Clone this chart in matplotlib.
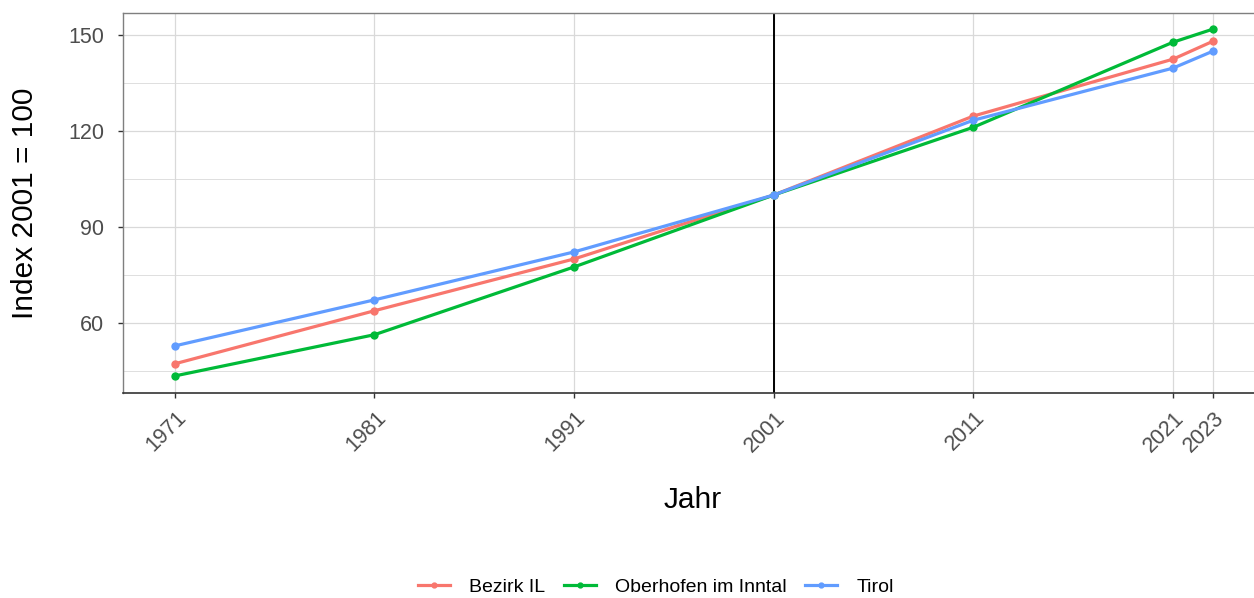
import numpy as np
import matplotlib.pyplot as plt
from matplotlib.ticker import MultipleLocator
from matplotlib.transforms import ScaledTranslation

plt.rcParams['font.family'] = ['Liberation Sans', 'DejaVu Sans']

# Daten (Index 2001 = 100)
jahre = [1971, 1981, 1991, 2001, 2011, 2021, 2023]
bezirk_il = [47.2, 63.8, 80.0, 100, 124.7, 142.5, 148.1]
oberhofen = [43.4, 56.3, 77.5, 100, 121.2, 147.8, 151.9]
tirol = [52.8, 67.2, 82.2, 100, 123.4, 139.7, 145.0]

namen = ['Bezirk IL', 'Oberhofen im Inntal', 'Tirol']
farben = ['#F8766D', '#00BA38', '#619CFF']

fig = plt.figure(figsize=(12.54, 5.98), dpi=100)
ax = fig.add_axes([0.098, 0.343, 0.909, 0.635])

ax.axvline(2001, color='black', lw=1.4, zorder=2)
for werte, name, farbe in zip([bezirk_il, oberhofen, tirol], namen, farben):
    ax.plot(jahre, werte, color=farbe, lw=2.3, marker='o', ms=5, label=name, zorder=3)

ax.set_xlim(1968.4, 2025.5)
ax.set_ylim(38.1, 156.9)
ax.set_xticks(jahre)
ax.set_xticklabels([str(j) for j in jahre], rotation=45, ha='right', va='top',
                   rotation_mode='anchor')
ax.yaxis.set_major_locator(MultipleLocator(30))
ax.yaxis.set_minor_locator(MultipleLocator(15))
ax.xaxis.set_minor_locator(plt.NullLocator())

ax.grid(True, which='major', color='#D9D9D9', lw=0.9)
ax.grid(True, which='minor', axis='y', color='#D9D9D9', lw=0.6)
ax.set_axisbelow(True)

for side in ['top', 'right', 'left']:
    ax.spines[side].set_color('#7F7F7F')
    ax.spines[side].set_linewidth(1.0)
ax.spines['bottom'].set_color('#333333')
ax.spines['bottom'].set_linewidth(1.2)

ax.tick_params(axis='both', which='major', labelsize=15.5, labelcolor='#4D4D4D',
               color='#333333', length=3.5, width=1)
ax.tick_params(axis='x', pad=7)
ax.tick_params(axis='y', pad=10)
ax.tick_params(axis='y', which='minor', length=0)

# Beschriftungen minimal nach rechts schieben
versatz = ScaledTranslation(1 / 100, 0, fig.dpi_scale_trans)
for lab in ax.get_xticklabels():
    lab.set_transform(lab.get_transform() + versatz)

ax.set_xlabel('Jahr', fontsize=21.5)
ax.xaxis.set_label_coords(0.5, -0.245)
ax.set_ylabel('Index 2001 = 100', fontsize=21.5)
ax.yaxis.set_label_coords(-0.0735, 0.5)

fig.legend(loc='center', bbox_to_anchor=(0.523, 1 - 587 / 598), ncol=3, frameon=False,
           fontsize=14, handlelength=1.65, columnspacing=0.93, handletextpad=1.0,
           markerscale=0.7)

fig.savefig('out.png', dpi=100)
